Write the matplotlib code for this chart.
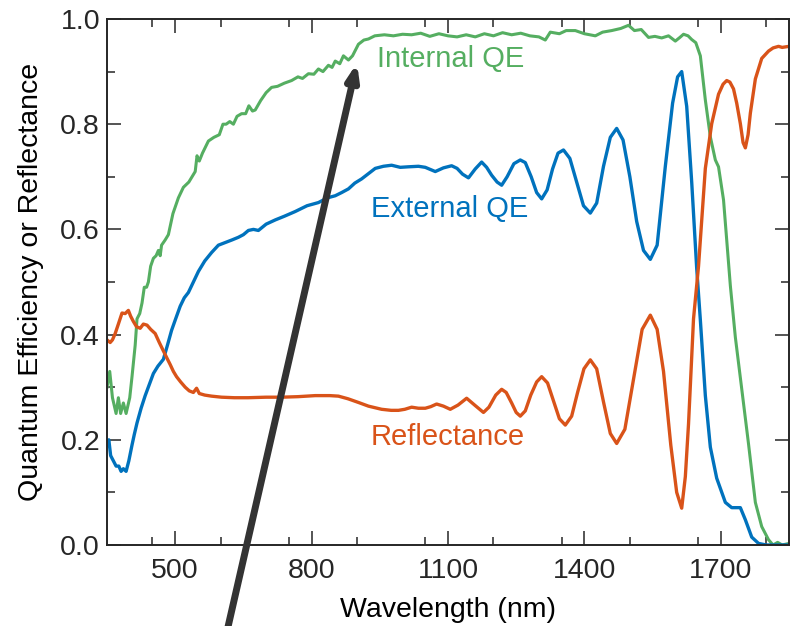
import numpy as np
from matplotlib import pyplot as plt
from matplotlib.ticker import MultipleLocator, FormatStrFormatter

plt.rcParams['font.family'] = ['Liberation Sans', 'DejaVu Sans']

# Internal QE (green)
iqe_wl = [350, 356, 362, 370, 375, 380, 386, 392, 400, 405, 412, 416, 422, 427, 432, 437, 441, 446,
          452, 458, 463, 467, 470, 478, 485, 495, 507, 518, 530, 544, 548, 553, 560, 573, 585, 597,
          605, 612, 620, 628, 636, 646, 655, 662, 670, 676, 688, 700, 712, 725, 740, 756, 770, 780,
          793, 805, 815, 825, 837, 845, 852, 862, 870, 881, 890, 903, 915, 925, 939, 960, 980, 1000,
          1020, 1040, 1060, 1080, 1100, 1120, 1140, 1160, 1180, 1200, 1220, 1240, 1260, 1280, 1300,
          1314, 1325, 1345, 1360, 1380, 1400, 1424, 1440, 1460, 1480, 1497, 1510, 1525, 1541, 1555,
          1570, 1585, 1600, 1610, 1618, 1628, 1636, 1645, 1655, 1666, 1677, 1688, 1695, 1706, 1721,
          1732, 1746, 1761, 1776, 1790, 1805, 1815, 1825, 1835, 1850]
iqe = [0.30, 0.33, 0.28, 0.25, 0.28, 0.25, 0.27, 0.25, 0.28, 0.32, 0.38, 0.43, 0.44, 0.46, 0.49, 0.49,
       0.50, 0.53, 0.545, 0.55, 0.56, 0.55, 0.57, 0.58, 0.59, 0.63, 0.66, 0.68, 0.69, 0.71, 0.74, 0.73,
       0.745, 0.768, 0.775, 0.78, 0.80, 0.80, 0.805, 0.80, 0.815, 0.82, 0.82, 0.835, 0.825, 0.827, 0.845,
       0.86, 0.87, 0.872, 0.878, 0.883, 0.89, 0.887, 0.896, 0.895, 0.905, 0.90, 0.912, 0.908, 0.92, 0.915,
       0.93, 0.922, 0.93, 0.952, 0.96, 0.962, 0.968, 0.97, 0.968, 0.971, 0.97, 0.973, 0.967, 0.972, 0.968,
       0.966, 0.970, 0.966, 0.972, 0.968, 0.974, 0.970, 0.973, 0.968, 0.966, 0.960, 0.975, 0.972, 0.978,
       0.978, 0.972, 0.968, 0.975, 0.978, 0.982, 0.988, 0.978, 0.98, 0.965, 0.967, 0.964, 0.968, 0.958,
       0.965, 0.971, 0.968, 0.961, 0.955, 0.93, 0.846, 0.776, 0.732, 0.719, 0.656, 0.493, 0.395, 0.297,
       0.192, 0.081, 0.035, 0.01, 0.0, 0.005, 0.0, 0.003]

# External QE (blue)
eqe_wl = [350, 354, 358, 364, 370, 376, 381, 386, 392, 398, 405, 410, 416, 425, 434, 443, 452, 462,
          474, 483, 492, 501, 511, 520, 529, 540, 551, 565, 580, 595, 610, 625, 639, 650, 661, 672,
          683, 700, 720, 740, 764, 790, 815, 835, 852, 866, 881, 895, 910, 925, 940, 958, 976, 995,
          1013, 1035, 1050, 1072, 1090, 1108, 1120, 1132, 1145, 1160, 1174, 1185, 1196, 1208, 1218,
          1230, 1245, 1259, 1270, 1283, 1295, 1306, 1318, 1330, 1342, 1354, 1368, 1383, 1398, 1413,
          1427, 1442, 1457, 1471, 1485, 1500, 1515, 1530, 1545, 1560, 1578, 1594, 1605, 1614, 1625,
          1636, 1647, 1655, 1666, 1677, 1691, 1710, 1724, 1743, 1754, 1768, 1783, 1800, 1850]
eqe = [0.19, 0.20, 0.17, 0.16, 0.15, 0.15, 0.14, 0.145, 0.14, 0.16, 0.19, 0.21, 0.232, 0.26, 0.284,
       0.305, 0.326, 0.34, 0.353, 0.38, 0.408, 0.43, 0.454, 0.47, 0.48, 0.50, 0.52, 0.54, 0.556, 0.57,
       0.575, 0.58, 0.585, 0.59, 0.598, 0.60, 0.598, 0.61, 0.618, 0.625, 0.634, 0.645, 0.651, 0.66,
       0.664, 0.67, 0.677, 0.688, 0.696, 0.706, 0.716, 0.72, 0.722, 0.718, 0.719, 0.72, 0.718, 0.710,
       0.717, 0.721, 0.716, 0.705, 0.698, 0.715, 0.728, 0.718, 0.703, 0.69, 0.684, 0.70, 0.725, 0.732,
       0.727, 0.70, 0.67, 0.658, 0.675, 0.715, 0.745, 0.751, 0.735, 0.69, 0.645, 0.631, 0.65, 0.72,
       0.775, 0.792, 0.77, 0.70, 0.615, 0.56, 0.543, 0.57, 0.72, 0.84, 0.89, 0.90, 0.834, 0.69, 0.526,
       0.428, 0.284, 0.186, 0.127, 0.081, 0.071, 0.071, 0.048, 0.015, 0.003, 0.0, 0.0]

# Reflectance (orange)
refl_wl = [350, 357, 362, 368, 375, 383, 390, 397, 402, 408, 415, 423, 430, 438, 446, 456, 465, 474,
           482, 489, 496, 503, 512, 522, 531, 540, 547, 553, 565, 580, 602, 630, 660, 700, 734, 770,
           808, 840, 859, 880, 903, 925, 954, 975, 991, 1005, 1020, 1035, 1050, 1062, 1075, 1090, 1105,
           1122, 1141, 1160, 1178, 1190, 1205, 1218, 1228, 1240, 1250, 1259, 1270, 1282, 1295, 1306,
           1319, 1332, 1345, 1358, 1372, 1385, 1399, 1413, 1427, 1442, 1457, 1471, 1489, 1508, 1527,
           1545, 1560, 1574, 1590, 1603, 1614, 1622, 1629, 1640, 1651, 1666, 1680, 1695, 1705, 1713,
           1720, 1728, 1735, 1743, 1749, 1754, 1760, 1765, 1776, 1790, 1805, 1815, 1827, 1835, 1850]
refl = [0.39, 0.385, 0.39, 0.402, 0.42, 0.441, 0.44, 0.446, 0.435, 0.425, 0.415, 0.412, 0.42, 0.418,
        0.41, 0.402, 0.385, 0.369, 0.355, 0.343, 0.33, 0.32, 0.31, 0.30, 0.293, 0.29, 0.298, 0.288,
        0.285, 0.283, 0.281, 0.28, 0.28, 0.281, 0.281, 0.282, 0.284, 0.284, 0.283, 0.278, 0.271, 0.264,
        0.258, 0.256, 0.256, 0.258, 0.262, 0.26, 0.260, 0.263, 0.268, 0.264, 0.258, 0.266, 0.279, 0.265,
        0.252, 0.262, 0.285, 0.296, 0.29, 0.27, 0.252, 0.245, 0.255, 0.285, 0.31, 0.320, 0.308, 0.274,
        0.24, 0.228, 0.245, 0.29, 0.335, 0.352, 0.335, 0.272, 0.212, 0.193, 0.22, 0.315, 0.41, 0.437,
        0.41, 0.33, 0.19, 0.10, 0.07, 0.13, 0.23, 0.43, 0.53, 0.716, 0.801, 0.857, 0.876, 0.883, 0.88,
        0.867, 0.84, 0.801, 0.765, 0.755, 0.78, 0.821, 0.886, 0.925, 0.939, 0.945, 0.948, 0.946, 0.948]

green = '#55AE61'
blue = '#0072BD'
orange = '#D95319'
axis_col = '#262626'

fig = plt.figure(figsize=(7.9, 6.26), dpi=100)
ax = fig.add_axes([107 / 790, 81 / 626, 682 / 790, 526 / 626])

ax.plot(iqe_wl, iqe, color=green, linewidth=2.2)
ax.plot(eqe_wl, eqe, color=blue, linewidth=2.4)
ax.plot(refl_wl, refl, color=orange, linewidth=2.4)

ax.text(943, 0.908, 'Internal QE', color=green, fontsize=21)
ax.text(930, 0.624, 'External QE', color=blue, fontsize=21)
ax.text(930, 0.190, 'Reflectance', color=orange, fontsize=21)

ax.set_xlim(350, 1850)
ax.set_ylim(0, 1.0)
ax.xaxis.set_minor_locator(MultipleLocator(150))
ax.set_xticks([500, 800, 1100, 1400, 1700])
ax.yaxis.set_major_locator(MultipleLocator(0.2))
ax.yaxis.set_minor_locator(MultipleLocator(0.1))
ax.yaxis.set_major_formatter(FormatStrFormatter('%.1f'))

ax.tick_params(which='both', direction='in', top=True, right=True, colors=axis_col,
               labelsize=20.5, width=1.1)
ax.tick_params(which='major', length=10)
ax.tick_params(which='minor', length=5.5)
ax.tick_params(axis='x', pad=9)
ax.tick_params(axis='y', pad=5)
for s in ax.spines.values():
    s.set_linewidth(1.4)
    s.set_color(axis_col)

ax.set_xlabel('Wavelength (nm)', fontsize=20.5, color='black', labelpad=10)
ax.set_ylabel('Quantum Efficiency or Reflectance', fontsize=20.5, color='black', labelpad=12)

# big arrow drawn across the figure
ax.annotate('', xy=(357, 626 - 63), xycoords='figure pixels',
            xytext=(225, -14), textcoords='figure pixels',
            arrowprops=dict(arrowstyle='-|>,head_length=0.45,head_width=0.17',
                            mutation_scale=20, color='#333333', linewidth=5,
                            shrinkA=0, shrinkB=0),
            annotation_clip=False)

plt.savefig('out.png', dpi=100)
